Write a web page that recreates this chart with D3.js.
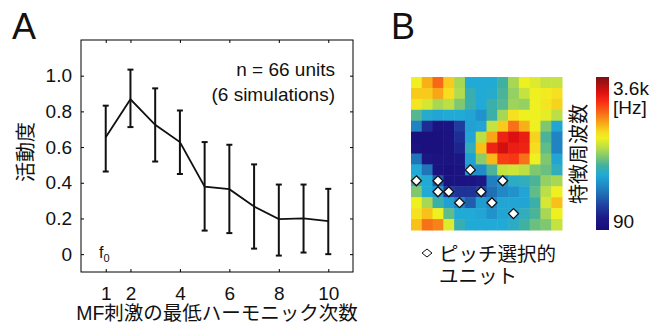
<!DOCTYPE html>
<html>
<head>
<meta charset="utf-8">
<script src="https://cdn.jsdelivr.net/npm/d3@7"></script>
<style>
  body { margin: 0; background: #fff; }
  svg text { font-family: "Liberation Sans", Arial, "Noto Sans CJK JP", sans-serif; fill: #111; }
</style>
</head>
<body>
<svg id="chart" width="666" height="324"></svg>
<script>
// Panel A: activity vs lowest harmonic number of MF stimulus
const harmonics = [1, 2, 3, 4, 5, 6, 7, 8, 9, 10];
const activity = [0.655, 0.868, 0.725, 0.628, 0.378, 0.364, 0.267, 0.196, 0.200, 0.185];
const errUpper = [0.832, 1.034, 0.929, 0.805, 0.628, 0.613, 0.503, 0.390, 0.390, 0.366];
const errLower = [0.463, 0.712, 0.519, 0.449, 0.132, 0.118, 0.031, -0.008, 0.009, 0.000];
const xTickValues = [1, 2, 4, 6, 8, 10];
const yTickValues = [0, 0.2, 0.4, 0.6, 0.8, 1.0];

// Panel B: characteristic frequency map (position on log colour scale, 0 = 90 Hz, 1 = 3.6 kHz)
const cfGrid = [
  [0.60, 0.69, 0.77, 0.66, 0.52, 0.36, 0.36, 0.36, 0.42, 0.52, 0.60, 0.58, 0.55, 0.55],
  [0.66, 0.66, 0.70, 0.64, 0.53, 0.40, 0.36, 0.37, 0.43, 0.50, 0.55, 0.60, 0.61, 0.63],
  [0.62, 0.57, 0.52, 0.54, 0.48, 0.41, 0.36, 0.41, 0.44, 0.51, 0.50, 0.60, 0.62, 0.65],
  [0.44, 0.37, 0.35, 0.36, 0.36, 0.35, 0.31, 0.41, 0.52, 0.63, 0.60, 0.60, 0.59, 0.54],
  [0.28, 0.12, 0.04, 0.05, 0.15, 0.34, 0.35, 0.55, 0.66, 0.76, 0.69, 0.60, 0.48, 0.35],
  [0.03, 0.03, 0.03, 0.04, 0.12, 0.35, 0.54, 0.70, 0.86, 0.90, 0.87, 0.65, 0.43, 0.28],
  [0.04, 0.03, 0.03, 0.04, 0.10, 0.39, 0.67, 0.86, 0.91, 0.87, 0.86, 0.64, 0.45, 0.28],
  [0.25, 0.06, 0.04, 0.04, 0.06, 0.34, 0.49, 0.68, 0.82, 0.83, 0.76, 0.60, 0.48, 0.35],
  [0.36, 0.25, 0.04, 0.03, 0.04, 0.31, 0.30, 0.43, 0.55, 0.56, 0.54, 0.48, 0.46, 0.39],
  [0.40, 0.36, 0.20, 0.04, 0.04, 0.05, 0.07, 0.27, 0.30, 0.38, 0.39, 0.43, 0.50, 0.52],
  [0.48, 0.36, 0.32, 0.15, 0.13, 0.13, 0.17, 0.24, 0.29, 0.31, 0.35, 0.45, 0.54, 0.60],
  [0.60, 0.52, 0.41, 0.34, 0.28, 0.21, 0.33, 0.30, 0.35, 0.35, 0.35, 0.41, 0.57, 0.67],
  [0.63, 0.67, 0.60, 0.45, 0.36, 0.36, 0.35, 0.31, 0.35, 0.35, 0.39, 0.43, 0.52, 0.60],
  [0.67, 0.76, 0.74, 0.58, 0.40, 0.36, 0.36, 0.36, 0.36, 0.38, 0.42, 0.46, 0.48, 0.55]
];
// pitch-selective units (column, row)
const pitchUnits = [[5, 8], [0, 9], [2, 9], [8, 9], [2, 10], [3, 10], [6, 10], [4, 11], [7, 11], [9, 12]];
const cfLabels = ["3.6k", "90"];

const svg = d3.select("#chart");

// ---------- Panel A ----------
const x = d3.scaleLinear().domain([0, 11]).range([81, 353]);
const y = d3.scaleLinear().domain([-0.1, 1.2]).range([272, 40]);

svg.append("text").attr("x", 12).attr("y", 39).style("font-size", "36px").text("A");

const axes = svg.append("g");
axes.append("g").attr("transform", "translate(0,272)")
  .call(d3.axisBottom(x).tickValues(xTickValues).tickSizeInner(-3).tickSizeOuter(0).tickPadding(15))
  .call(g => g.select(".domain").remove());
axes.append("g").attr("transform", "translate(0,40)")
  .call(d3.axisTop(x).tickValues(xTickValues).tickSizeInner(-3).tickSizeOuter(0).tickFormat(""))
  .call(g => g.select(".domain").remove());
axes.append("g").attr("transform", "translate(81,0)")
  .call(d3.axisLeft(y).tickValues(yTickValues).tickSizeInner(-3).tickSizeOuter(0).tickPadding(9)
    .tickFormat(d => d === 0 ? "0" : d3.format(".1f")(d)))
  .call(g => g.select(".domain").remove());
axes.append("g").attr("transform", "translate(353,0)")
  .call(d3.axisRight(y).tickValues(yTickValues).tickSizeInner(-3).tickSizeOuter(0).tickFormat(""))
  .call(g => g.select(".domain").remove());
axes.selectAll(".tick line").attr("stroke", "#000");
axes.selectAll(".tick text").style("font-size", "19px").attr("fill", "#111");

axes.append("rect")
  .attr("x", x(0)).attr("y", y(1.2))
  .attr("width", x(11) - x(0)).attr("height", y(-0.1) - y(1.2))
  .attr("fill", "none").attr("stroke", "#000").attr("stroke-width", 1);

// error bars
const bars = svg.append("g").attr("stroke", "#111").attr("stroke-width", 2);
harmonics.forEach((h, i) => {
  bars.append("line").attr("x1", x(h)).attr("x2", x(h)).attr("y1", y(errUpper[i])).attr("y2", y(errLower[i]));
  [errUpper[i], errLower[i]].forEach(v => {
    bars.append("line").attr("x1", x(h) - 3).attr("x2", x(h) + 3).attr("y1", y(v)).attr("y2", y(v));
  });
});

svg.append("path")
  .datum(harmonics.map((h, i) => [h, activity[i]]))
  .attr("fill", "none").attr("stroke", "#111").attr("stroke-width", 1.8)
  .attr("d", d3.line().x(d => x(d[0])).y(d => y(d[1])));

svg.append("text").attr("x", 335).attr("y", 76).attr("text-anchor", "end")
  .style("font-size", "19px").text("n = 66 units");
svg.append("text").attr("x", 335).attr("y", 101).attr("text-anchor", "end")
  .style("font-size", "19px").text("(6 simulations)");

const f0 = svg.append("text").attr("x", 99).attr("y", 258).style("font-size", "16px");
f0.append("tspan").text("f");
f0.append("tspan").attr("dy", 4).style("font-size", "11px").text("0");

svg.append("text").attr("x", 217).attr("y", 320).attr("text-anchor", "middle")
  .style("font-size", "19.5px").text("MF刺激の最低ハーモニック次数");
svg.append("text").attr("transform", "translate(33,152) rotate(-90)").attr("text-anchor", "middle")
  .style("font-size", "20px").text("活動度");

// ---------- Panel B ----------
svg.append("text").attr("x", 391).attr("y", 39).style("font-size", "36px").text("B");

const colorStops = [
  [0.00, "#190b78"], [0.08, "#1c1a88"], [0.16, "#2040a0"], [0.24, "#2070b5"],
  [0.31, "#2092cc"], [0.36, "#22aad6"], [0.42, "#40b0a0"], [0.48, "#80c870"],
  [0.54, "#bcdf46"], [0.60, "#eef020"], [0.64, "#f8dc20"], [0.68, "#f8b818"],
  [0.76, "#f87018"], [0.84, "#f82c14"], [0.90, "#dc1010"], [1.00, "#801010"]
];
const color = d3.scaleLinear()
  .domain(colorStops.map(d => d[0]))
  .range(colorStops.map(d => d[1]))
  .clamp(true);

const idx = d3.range(14);
const cx = d3.scaleBand().domain(idx).range([411, 562]);
const cy = d3.scaleBand().domain(idx).range([77, 230]);

const cells = [];
cfGrid.forEach((row, r) => row.forEach((v, c) => cells.push({ r, c, v })));
svg.append("g").selectAll("rect").data(cells).join("rect")
  .attr("x", d => cx(d.c)).attr("y", d => cy(d.r))
  .attr("width", cx.bandwidth() + 0.5).attr("height", cy.bandwidth() + 0.5)
  .attr("fill", d => color(d.v));

const diamond = (px, py, w, h) => `M${px},${py - h / 2}L${px + w / 2},${py}L${px},${py + h / 2}L${px - w / 2},${py}Z`;
svg.append("g").selectAll("path").data(pitchUnits).join("path")
  .attr("d", d => diamond(cx(d[0]) + cx.bandwidth() / 2, cy(d[1]) + cy.bandwidth() / 2, 10, 10))
  .attr("fill", "#fff").attr("stroke", "#111").attr("stroke-width", 1.3);

// colour bar
const grad = svg.append("defs").append("linearGradient").attr("id", "cbar")
  .attr("x1", 0).attr("y1", 1).attr("x2", 0).attr("y2", 0);
grad.selectAll("stop").data(colorStops).join("stop")
  .attr("offset", d => d[0]).attr("stop-color", d => d[1]);
const cbY = d3.scaleLog().domain([90, 3600]).range([230, 77]);
svg.append("rect").attr("x", 596).attr("y", cbY(3600)).attr("width", 13)
  .attr("height", cbY(90) - cbY(3600)).attr("fill", "url(#cbar)");
svg.append("text").attr("x", 613).attr("y", cbY(3600) + 18).style("font-size", "19px").text(cfLabels[0]);
svg.append("text").attr("x", 613).attr("y", cbY(3600) + 37).style("font-size", "19px").text("[Hz]");
svg.append("text").attr("x", 613).attr("y", cbY(90) - 2).style("font-size", "19px").text(cfLabels[1]);
svg.append("text").attr("transform", "translate(586,154) rotate(-90)").attr("text-anchor", "middle")
  .style("font-size", "20px").text("特徴周波数");

// legend
svg.append("path").attr("d", diamond(427, 253, 10, 8))
  .attr("fill", "none").attr("stroke", "#111").attr("stroke-width", 1);
svg.append("text").attr("x", 439).attr("y", 261).style("font-size", "19.5px").text("ピッチ選択的");
svg.append("text").attr("x", 439).attr("y", 283).style("font-size", "19.5px").text("ユニット");
</script>
</body>
</html>
